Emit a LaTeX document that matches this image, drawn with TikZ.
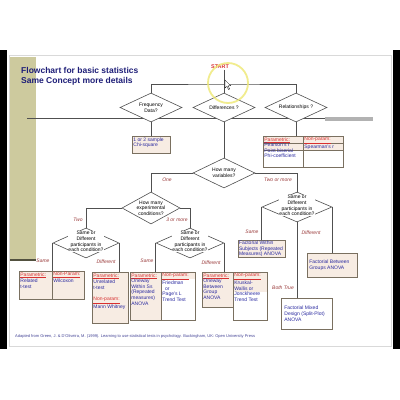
\documentclass[tikz,border=0pt]{standalone}
\usepackage{fontspec}
\setmainfont{Liberation Sans}
\usetikzlibrary{shapes.geometric,calc}
\definecolor{linec}{HTML}{505050}
\definecolor{beige}{HTML}{F7ECE3}
\definecolor{bluet}{HTML}{2A2AA0}
\definecolor{redt}{HTML}{D83030}
\definecolor{lblc}{HTML}{9A3A3A}
\definecolor{navy}{HTML}{1E1E78}
\definecolor{olivec}{HTML}{CDCA9E}
\definecolor{boxc}{HTML}{7A7060}
\definecolor{ringc}{HTML}{EEE872}
\newcommand{\tf}{\fontsize{5}{5.6}\selectfont}
\newcommand{\hdr}[1]{\textcolor{redt}{\underline{#1}}}
\tikzset{
  dia/.style={diamond, draw=linec, fill=white, line width=0.6pt, inner sep=0pt},
  diatext/.style={font=\tf, align=center, inner sep=0.4pt, text=black},
  boxn/.style={rectangle, draw=boxc, line width=0.6pt, inner sep=0pt, anchor=north west},
  btext/.style={font=\tf, align=left, inner sep=1.2pt, anchor=north west, text=bluet},
  lbl/.style={font=\tf\itshape, text=lblc, inner sep=0pt},
  conn/.style={draw=linec, line width=0.6pt}
}
\begin{document}
\begin{tikzpicture}[x=1pt,y=-1pt]
\useasboundingbox (0,0) rectangle (400,400);
\fill[white] (0,0) rectangle (400,400);
\fill[black] (0,50) rectangle (7,349);
\fill[black] (393,50) rectangle (400,349);
\draw[gray!30, line width=0.8pt] (9,55) rectangle (391,346);
\fill[olivec] (10,57) rectangle (36,259);
\fill[olivec!40!black] (10,259) rectangle (36,261);
\draw[linec, line width=0.6pt] (27,118.5) -- (325,118.5);
\fill[gray!60] (325,117.3) rectangle (373,120.7);

% title
\node[anchor=west, font=\bfseries\fontsize{8.5}{9}\selectfont, text=navy, inner sep=0pt] (t1) at (21,70) {Flowchart for basic statistics};
\node[anchor=west, font=\bfseries\fontsize{8.5}{9}\selectfont, text=navy, inner sep=0pt] (t2) at (21,81) {Same Concept more details};

% start
\node[font=\bfseries\fontsize{5.4}{6}\selectfont, text=redt, inner sep=0.5pt] (start) at (220,67) {START};
\coordinate (split) at (224,84);

% diamonds
\node[dia, minimum width=62pt, minimum height=29pt] (freq) at (151,107.5) {};
\node[dia, minimum width=62pt, minimum height=29pt] (diff) at (224,107.5) {};
\node[dia, minimum width=62pt, minimum height=29pt] (rel) at (296,107.5) {};
\node[dia, minimum width=62pt, minimum height=30pt] (vars) at (224,173) {};
\node[dia, minimum width=58pt, minimum height=32pt] (expc) at (151,208) {};
\node[dia, minimum width=66pt, minimum height=30pt] (sd1) at (86,243) {};
\node[dia, minimum width=68pt, minimum height=30pt] (sd2) at (190,243) {};
\node[dia, minimum width=70pt, minimum height=30pt] (sd3) at (297,207) {};

% boxes
\node[boxn, fill=beige, minimum width=38pt, minimum height=17pt] (chi) at (132,136) {};
\node[btext] (chit) at (chi.north west) {1 or 2 sample\\Chi-square};

\fill[beige] (263,136) rectangle (343,150);
\node[boxn, minimum width=40pt, minimum height=31pt] (relp) at (263,136) {};
\node[boxn, minimum width=40pt, minimum height=31pt] (reln) at (303,136) {};
\draw[boxc, line width=0.5pt] (relp.north west |- 0,143) -- (reln.north east |- 0,143);
\draw[boxc, line width=0.5pt] (relp.north west |- 0,150) -- (reln.north east |- 0,150);
\node[btext] (relpt) at (relp.north west) {\hdr{Parametric:}\\Pearson's r\\Point biserial\\Phi-coefficient};
\node[btext] (relnt) at (reln.north west) {\hdr{Non-param:}\\Spearman's r};

\node[boxn, fill=beige, minimum width=47pt, minimum height=17pt] (fwithin) at (238,240) {};
\node[btext, inner sep=0.8pt] (fwithint) at (fwithin.north west) {Factorial Within\\Subjects (Repeated\\Measures) ANOVA};
\node[boxn, fill=beige, minimum width=50pt, minimum height=24pt] (fbetween) at (307,253) {};
\node[btext, anchor=west] (fbetweent) at ($(fbetween.west)+(1,0)$) {Factorial Between\\Groups ANOVA};
\node[boxn, fill=white, minimum width=51pt, minimum height=31pt] (fmixed) at (281,298) {};
\node[btext, anchor=west] (fmixedt) at ($(fmixed.west)+(2,0)$) {Factorial Mixed\\Design (Split-Plot)\\ANOVA};

\node[boxn, fill=beige, minimum width=33pt, minimum height=28pt] (b1p) at (19,271) {};
\node[boxn, fill=beige, minimum width=32pt, minimum height=28pt] (b1n) at (52,271) {};
\node[btext] (b1pt) at (b1p.north west) {\hdr{Parametric:}\\Related\\t-test};
\node[btext] (b1nt) at (b1n.north west) {\hdr{Non-Param:}\\Wilcoxon};

\node[boxn, fill=beige, minimum width=36pt, minimum height=51pt] (b2) at (92,272) {};
\node[btext] (b2t) at (b2.north west) {\hdr{Parametric:}\\Unrelated\\t-test\\[5.6pt]\hdr{Non-param:}\\Mann Whitney};

\node[boxn, fill=beige, minimum width=31pt, minimum height=48pt] (b3p) at (130,272) {};
\fill[beige] (161,272) rectangle (195,279);
\node[boxn, minimum width=34pt, minimum height=48pt] (b3n) at (161,272) {};
\node[btext] (b3pt) at (b3p.north west) {\hdr{Parametric:}\\Oneway\\Within Ss\\(Repeated\\measures)\\ANOVA};
\node[btext] (b3nt) at (b3n.north west) {\hdr{Non-param:}\\Friedman\\\ \ or\\Page's L\\Trend Test};

\node[boxn, fill=beige, minimum width=31pt, minimum height=35pt] (b4p) at (202,272) {};
\fill[beige] (233,272) rectangle (267,292);
\node[boxn, minimum width=34pt, minimum height=48pt] (b4n) at (233,272) {};
\node[btext] (b4pt) at (b4p.north west) {\hdr{Parametric:}\\Oneway\\Between\\Group\\ANOVA};
\node[btext] (b4nt) at (b4n.north west) {\hdr{Non-param:}\\Kruskal-\\Wallis or\\Jonckheere\\Trend Test};

% connectors
\draw[conn] (start.south -| split) -- (split);
\draw[conn] (freq.north) |- (split) -| (rel.north);
\draw[conn] (split) -- (diff.north);
\draw[conn] (freq.south) -- (freq.south |- chi.north);
\draw[conn] (rel.south) -- (rel.south |- relp.north);
\draw[conn] (diff.south) -- (vars.north);
\draw[conn] (vars.west) -| (expc.north);
\draw[conn] (vars.east) -| (sd3.north);
\draw[conn] (expc.west) -| (sd1.north);
\draw[conn] (expc.east) -| (sd2.north);
\draw[conn] (sd1.west) -- (sd1.west |- b1p.north);
\draw[conn] (sd1.east) -- (sd1.east |- b2.north);
\draw[conn] (sd2.west) -- (sd2.west |- b3p.north);
\draw[conn] (sd2.east) -- (sd2.east |- b4p.north);
\draw[conn] (sd3.west) -- (sd3.west |- fwithin.north);
\draw[conn] (sd3.east) -- (sd3.east |- fbetween.north);
\draw[conn] (sd3.south) -- (sd3.south |- fmixed.north);

% diamond texts
\node[diatext] (freqt) at (freq) {Frequency\\Data?};
\node[diatext] (difft) at (diff) {Differences ?};
\node[diatext] (relt) at (rel) {Relationships ?};
\node[diatext] (varst) at (vars) {How many\\variables?};
\node[diatext] (expct) at (expc) {How many\\experimental\\conditions?};
\node[diatext, fill=white] (sd1t) at (86,241.5) {Same or\\Different\\participants in\\each condition?};
\node[diatext, fill=white] (sd2t) at (190,241.5) {Same or\\Different\\participants in\\each condition?};
\node[diatext, fill=white] (sd3t) at (297,205.5) {Same or\\Different\\participants in\\each condition?};

% labels
\node[lbl] (l1) at (167,180) {One};
\node[lbl] (l2) at (278,180) {Two or more};
\node[lbl] (l3) at (78,220) {Two};
\node[lbl] (l4) at (177,219.5) {3 or more};
\node[lbl] (l5) at (43,261) {Same};
\node[lbl] (l6) at (106,262) {Different};
\node[lbl] (l7) at (147,261) {Same};
\node[lbl] (l8) at (211,263) {Different};
\node[lbl] (l9) at (252,232) {Same};
\node[lbl] (l10) at (311,233) {Different};
\node[lbl] (l11) at (283,288) {Both True};

% footer
\node[anchor=west, font=\fontsize{4}{4.5}\selectfont, text=bluet!70!gray, inner sep=0pt] (foot) at (15,336) {Adapted from Green, J. \& D'Oliveira, M. (1999). Learning to use statistical tests in psychology. Buckingham, UK: Open University Press};

% highlight ring and cursor
\draw[ringc, line width=1.8pt, opacity=0.8] (228,83) circle (20);
\draw[black, fill=white, line width=0.3pt] (225,80) -- (225,88) -- (227,86.3) -- (228.5,89.5) -- (229.6,89) -- (228.2,85.8) -- (230.8,85.8) -- cycle;
\end{tikzpicture}
\end{document}
